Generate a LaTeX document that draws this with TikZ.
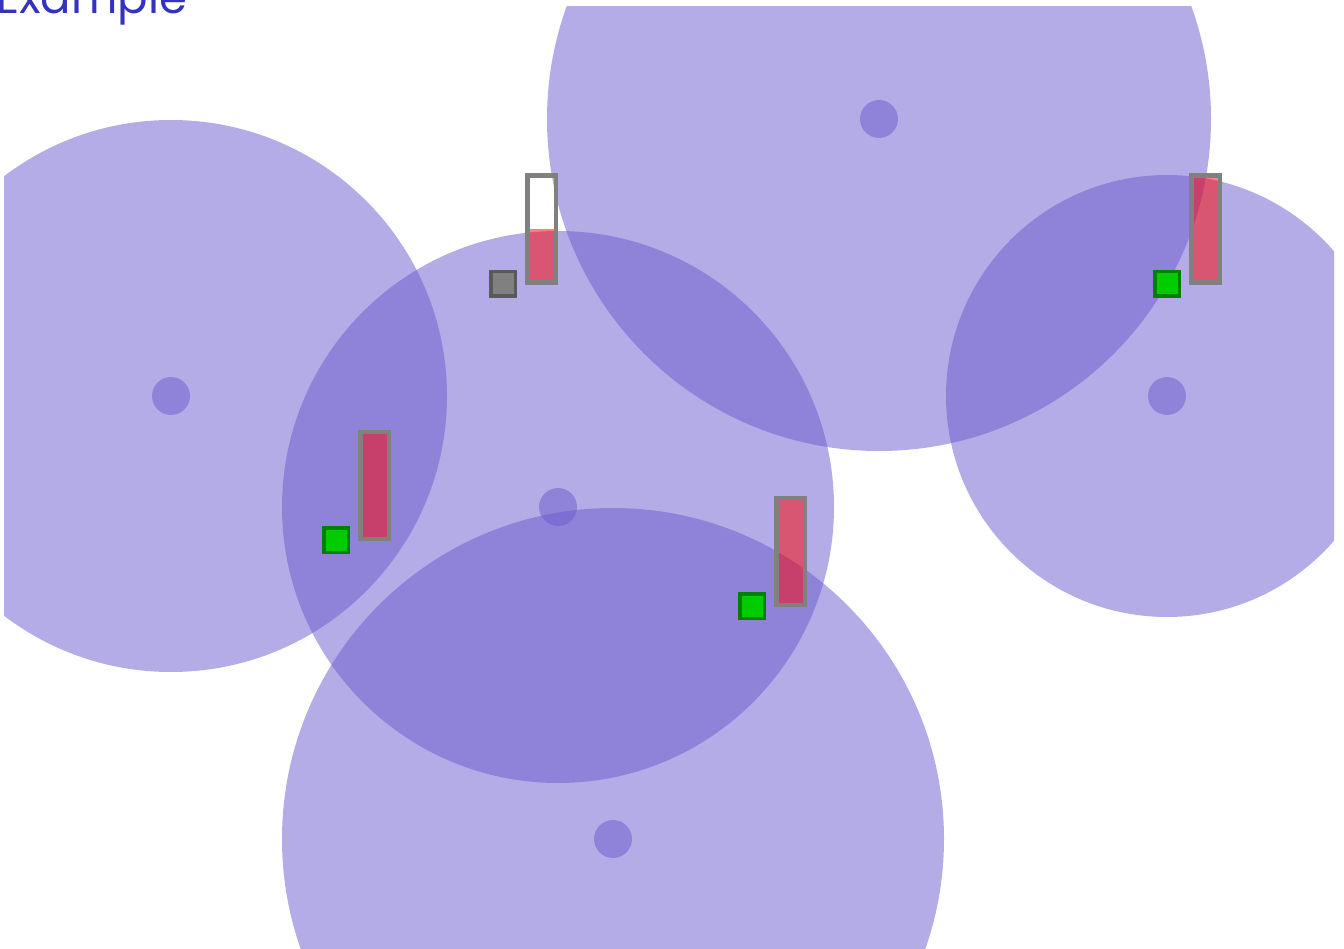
\documentclass[tikz,border=0pt]{standalone}
\usepackage{fontspec}
\newfontfamily\titlefont{Poppins}
\usepackage{tikz}
\usetikzlibrary{positioning}
\definecolor{zonecolor}{RGB}{106,90,205}
\definecolor{titlecolor}{RGB}{51,51,187}
\definecolor{okcolor}{RGB}{0,204,0}
\definecolor{okborder}{RGB}{0,128,0}

\begin{document}
\begin{tikzpicture}[x=1pt,y=-1pt,
    zone/.style={fill=zonecolor,fill opacity=0.5},
    agent/.style={draw=okborder,fill=okcolor,line width=3.5pt,minimum size=24.5pt,inner sep=0pt},
    idle/.style={agent,draw=black!65,fill=black!50},
    level/.style={fill=red,fill opacity=0.5},
    gauge/.style={draw=black!50,line width=4.5pt}]
  \useasboundingbox (0,0) rectangle (1344,949);
  % coverage zones, cut to the frame
  \begin{scope}
    \clip (4,7) rectangle (1334,949);
    \foreach \cx/\cy/\r in {171/396/276, 558/507/276, 879/119/332, 1167/396/221, 613/839/331} {
      \fill[zone] (\cx,\cy) circle (\r);
      \fill[zone] (\cx,\cy) circle (19);
    }
  \end{scope}
  % agents with their charge gauges
  \foreach \n/\x/\y/\f/\s in {1/503/284/0.5/idle, 2/336/540/1/agent, 3/752/606/1/agent, 4/1167/284/1/agent} {
    \node[\s] (sq\n) at (\x,\y) {};
    \fill[level] (\x+24.25,\y-1.25) rectangle (\x+52.75,\y-1.25-107*\f);
    \draw[gauge] (\x+24.25,\y-1.25) rectangle (\x+52.75,\y-108.25);
  }
  \node[anchor=base west,inner sep=0pt,text=titlecolor,font=\titlefont\fontsize{45}{50}\selectfont] (title) at (-4,14) {Example};
\end{tikzpicture}
\end{document}
